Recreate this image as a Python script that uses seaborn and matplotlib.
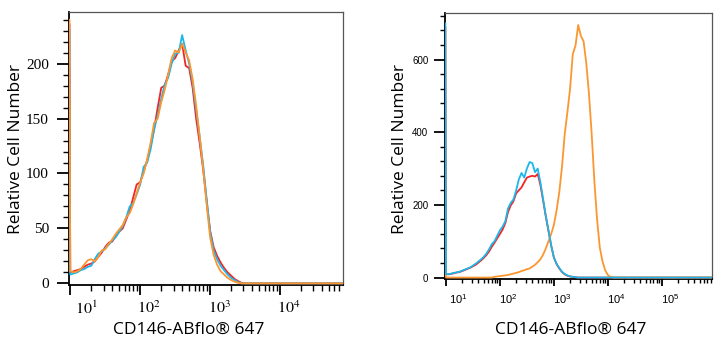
import numpy as np
import pandas as pd
import matplotlib
matplotlib.use("Agg")
import matplotlib.pyplot as plt
import seaborn as sns
from matplotlib.ticker import FixedLocator, MultipleLocator, NullFormatter
from matplotlib.transforms import ScaledTranslation

# ---------------- data ----------------
channels = [9.75,
            10, 11.2, 12.6, 14.1, 15.8, 17.8, 20.0, 22.4, 25.1, 28.2,
            31.6, 35.5, 39.8, 44.7, 50.1, 56.2, 63.1, 70.8, 79.4, 89.1,
            100, 112, 126, 141, 158, 178, 200, 224, 251, 282,
            316, 355, 398, 447, 501, 562, 631, 708, 794, 891,
            1000, 1122, 1259, 1413, 1585, 1778, 1995, 2239, 2512, 2818,
            3162, 3548, 3981, 4467, 5012, 5623, 6310, 7079, 7943, 8913,
            10000, 11220, 12589, 14125, 15849,
            1000000]

left_cyan = [232,
             8, 9, 10, 12, 13, 15, 16, 22, 27, 29,
             32, 35, 39, 42, 47, 52, 60, 70, 73, 81,
             90, 106, 110, 122, 140, 153, 168, 181, 187, 200,
             209, 210, 226, 212, 200, 183, 158, 134, 108, 77,
             47, 30, 22, 16, 12, 8, 5, 3, 1, 0,
             0, 0, 0, 0, 0, 0, 0, 0, 0, 0,
             0, 0, 0, 0, 0,
             0]
left_red = [236,
            10, 11, 12, 13, 15, 17, 18, 20, 24, 28,
            33, 37, 38, 43, 47, 50, 58, 66, 78, 90,
            92, 102, 112, 125, 140, 160, 178, 180, 190, 202,
            205, 212, 218, 198, 196, 178, 150, 128, 104, 75,
            48, 33, 25, 19, 14, 10, 7, 4, 2, 0.5,
            0, 0, 0, 0, 0, 0, 0, 0, 0, 0,
            0, 0, 0, 0, 0,
            0]
left_orange = [240,
               11, 10, 11, 13, 17, 21, 22, 20, 24, 30,
               31, 36, 40, 45, 49, 53, 60, 64, 72, 82,
               92, 100, 113, 128, 146, 150, 165, 176, 190, 205,
               212, 210, 218, 210, 203, 186, 162, 134, 105, 72,
               42, 26, 17, 11, 8, 5, 3, 1.5, 0.5, 0,
               0, 0, 0, 0, 0, 0, 0, 0, 0, 0,
               0, 0, 0, 0, 0,
               0]

right_cyan = [700,
              10, 9, 11, 13, 14, 16, 19, 22, 25, 28,
              33, 38, 44, 50, 57, 66, 78, 92, 100, 115,
              130, 140, 155, 190, 205, 215, 240, 270, 288, 275,
              300, 318, 315, 290, 300, 262, 216, 170, 130, 88,
              55, 38, 26, 16, 10, 6, 3, 2, 1, 0,
              0, 0, 0, 0, 0, 0, 0, 0, 0, 0,
              0, 0, 0, 0, 0,
              0]
right_red = [690,
             9, 9, 10, 12, 14, 15, 18, 21, 24, 27,
             31, 35, 41, 47, 54, 62, 72, 85, 96, 108,
             120, 132, 150, 180, 198, 210, 232, 240, 248, 262,
             275, 278, 280, 278, 285, 255, 212, 168, 128, 88,
             55, 37, 25, 15, 9, 5, 3, 2, 1, 0,
             0, 0, 0, 0, 0, 0, 0, 0, 0, 0,
             0, 0, 0, 0, 0,
             0]
right_orange = [168,
                0, 0, 0, 0, 0, 0, 0, 0, 0, 0,
                0, 0, 0, 0, 0, 0, 0, 0, 2, 3,
                4, 5, 6, 7, 9, 11, 13, 15, 18, 20,
                23, 25, 30, 35, 42, 50, 63, 80, 100, 120,
                145, 185, 235, 305, 394, 455, 520, 615, 638, 695,
                665, 650, 590, 505, 395, 265, 160, 83, 45, 20,
                7, 2, 0, 0, 0,
                0]

left_yticks = [0, 50, 100, 150, 200]
right_yticks = [0, 200, 400, 600]
left_xticks = [10, 100, 1000, 10000]
right_xticks = [10, 100, 1000, 10000, 100000]
left_xticklabels = ["$10^{1}$", "$10^{2}$", "$10^{3}$", "$10^{4}$"]
right_xticklabels = ["$10^{1}$", "$10^{2}$", "$10^{3}$", "$10^{4}$", "$10^{5}$"]
xlabel_text = "CD146-ABflo® 647"
ylabel_text = "Relative Cell Number"

colors = {"red": "#f52323", "cyan": "#1cb6ea", "orange": "#fb9630"}


def long_df(series):
    frames = []
    for name, vals in series.items():
        frames.append(pd.DataFrame({"channel": channels, "count": vals,
                                    "sample": name}))
    return pd.concat(frames, ignore_index=True)


df_left = long_df({"red": left_red, "cyan": left_cyan, "orange": left_orange})
df_right = long_df({"red": right_red, "orange": right_orange, "cyan": right_cyan})

# ---------------- figure ----------------
sns.set_style("ticks")
plt.rcParams["font.family"] = ["Open Sans", "DejaVu Sans"]
plt.rcParams["mathtext.fontset"] = "custom"
plt.rcParams["mathtext.rm"] = "Liberation Sans"
plt.rcParams["mathtext.it"] = "Liberation Sans:italic"
plt.rcParams["mathtext.bf"] = "Liberation Sans:bold"
plt.rcParams["text.color"] = "black"
plt.rcParams["axes.labelcolor"] = "black"
plt.rcParams["xtick.color"] = "black"
plt.rcParams["ytick.color"] = "black"

fig = plt.figure(figsize=(7.24, 3.5), dpi=100)
axL = fig.add_axes([69 / 724, 1 - 285 / 350, 274 / 724, 273 / 350])
axR = fig.add_axes([445 / 724, 1 - 279 / 350, 267 / 724, 266 / 350])

sns.lineplot(data=df_left, x="channel", y="count", hue="sample",
             hue_order=["red", "cyan", "orange"], palette=colors,
             estimator=None, sort=False, lw=1.3, legend=False, ax=axL, zorder=3)
sns.lineplot(data=df_right, x="channel", y="count", hue="sample",
             hue_order=["red", "orange", "cyan"], palette=colors,
             estimator=None, sort=False, lw=1.3, legend=False, ax=axR, zorder=3)

for ax in (axL, axR):
    ax.set_xscale("log")
    for s in ("top", "right"):
        ax.spines[s].set_color("#555555")
        ax.spines[s].set_linewidth(0.9)
    for s in ("left", "bottom"):
        ax.spines[s].set_color("black")
        ax.spines[s].set_linewidth(1.3)
    ax.xaxis.set_minor_locator(FixedLocator(
        [m * 10 ** e for e in range(0, 6) for m in range(2, 10)]))
    ax.xaxis.set_minor_formatter(NullFormatter())

# left panel
axL.set_xlim(9.6, 79400)
axL.set_ylim(-1.5, 247)
axL.set_xticks(left_xticks)
axL.set_xticklabels(left_xticklabels)
axL.set_yticks(left_yticks)
axL.set_yticklabels([str(v) for v in left_yticks])
axL.yaxis.set_minor_locator(MultipleLocator(10))
axL.tick_params(axis="x", which="major", length=7, width=1.3, pad=4, labelsize=11.5)
axL.tick_params(axis="x", which="minor", length=4, width=1.0)
axL.tick_params(axis="y", which="major", length=9, width=1.3, pad=5.5)
axL.tick_params(axis="y", which="minor", length=4, width=1.0)
for t in axL.get_yticklabels():
    t.set_fontfamily("Liberation Serif")
    t.set_fontsize(11)
for t, dx in zip(axL.get_xticklabels(), [16, 9, 9, 9]):
    t.set_math_fontfamily("stix")
    t.set_transform(t.get_transform() + ScaledTranslation(dx / 100, 0, fig.dpi_scale_trans))

# right panel
axR.set_xlim(9.6, 850000)
axR.set_ylim(-4, 728)
axR.set_xticks(right_xticks)
axR.set_xticklabels(right_xticklabels)
axR.set_yticks(right_yticks)
axR.set_yticklabels([str(v) for v in right_yticks])
axR.yaxis.set_minor_locator(MultipleLocator(40))
axR.tick_params(axis="x", which="major", length=5, width=1.3, pad=5, labelsize=8)
axR.tick_params(axis="x", which="minor", length=3, width=1.0)
axR.tick_params(axis="y", which="major", length=8, width=1.3, pad=4, labelsize=7)
axR.tick_params(axis="y", which="minor", length=3.5, width=1.0)
for t in axR.get_yticklabels():
    t.set_fontfamily("Liberation Sans")
for t, dx in zip(axR.get_xticklabels(), [12, 8, 8, 8, 8]):
    t.set_transform(t.get_transform() + ScaledTranslation(dx / 100, 0, fig.dpi_scale_trans))

# axis labels
axL.set_xlabel(xlabel_text, fontsize=12.5, va="center")
axL.xaxis.set_label_coords(0.438, -0.165)
axL.set_ylabel(ylabel_text, fontsize=12.5, va="center")
axL.yaxis.set_label_coords(-0.195, 0.5)
axR.set_xlabel(xlabel_text, fontsize=12.5, va="center")
axR.xaxis.set_label_coords(0.472, -0.19)
axR.set_ylabel(ylabel_text, fontsize=12.5, va="center")
axR.yaxis.set_label_coords(-0.169, 0.49)

fig.savefig("out.png", dpi=100)
